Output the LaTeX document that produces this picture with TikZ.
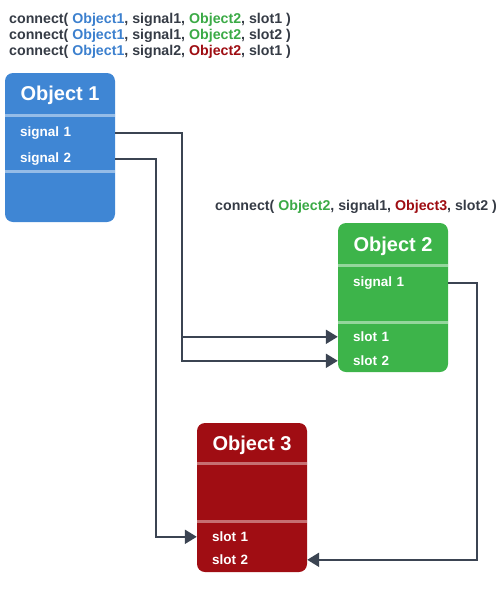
\documentclass[tikz,border=0pt]{standalone}
\usepackage{fontspec}
\setmainfont{Liberation Sans}
\usetikzlibrary{arrows.meta,positioning}
\definecolor{boxblue}{HTML}{3F86D4}
\definecolor{boxgreen}{HTML}{3DB44A}
\definecolor{boxred}{HTML}{A00D13}
\definecolor{txtblue}{HTML}{3C80CE}
\definecolor{txtgreen}{HTML}{3BAA46}
\definecolor{txtred}{HTML}{9E0D12}
\definecolor{txtgray}{HTML}{353B45}
\definecolor{wirecol}{HTML}{3B4452}
\tikzset{
  % object box, the rows are drawn on top of it
  obj/.style={rectangle, rounded corners=8pt, minimum width=110pt, minimum height=149pt, inner sep=0pt},
  title/.style={text=white, font=\fontsize{20}{24}\selectfont\bfseries},
  row/.style={rectangle, minimum width=110pt, minimum height=24pt, text width=80pt,
    inner xsep=15pt, inner ysep=0pt, align=left, text=white, font=\fontsize{13.5}{16}\selectfont\bfseries},
  sep/.style={line width=3pt},
  wire/.style={draw=wirecol, line width=2.2pt, -{Triangle[length=12pt,width=14pt]}},
  call/.style={anchor=west, inner sep=0pt, text=txtgray, font=\fontsize{14.2}{16}\selectfont\bfseries}}

\begin{document}
\begin{tikzpicture}[x=1pt,y=-1pt]
\useasboundingbox (0,0) rectangle (500,600);

\draw (9,20) node (c1) [call] {connect( \textcolor{txtblue}{Object1}, signal1, \textcolor{txtgreen}{Object2}, slot1 )};
\draw (9,36) node (c2) [call] {connect( \textcolor{txtblue}{Object1}, signal1, \textcolor{txtgreen}{Object2}, slot2 )};
\draw (9,52) node (c3) [call] {connect( \textcolor{txtblue}{Object1}, signal2, \textcolor{txtred}{Object2}, slot1 )};
\draw (215,207) node (c4) [call] {connect( \textcolor{txtgreen}{Object2}, signal1, \textcolor{txtred}{Object3}, slot2 )};

% Object 1
\draw (60,147.5) node (obj1) [obj, fill=boxblue] {};
\draw (obj1.north) ++(0,23) node (t1) [title] {Object 1};
\draw [sep, boxblue!55!white] ([yshift=-43pt]obj1.north west) -- ([yshift=-43pt]obj1.north east);
\draw [sep, boxblue!55!white] ([yshift=-99pt]obj1.north west) -- ([yshift=-99pt]obj1.north east);
\draw (obj1.north) ++(0,60) node (o1s1) [row] {signal 1};
\draw (obj1.north) ++(0,86) node (o1s2) [row] {signal 2};

% Object 2
\draw (393,297.5) node (obj2) [obj, fill=boxgreen] {};
\draw (obj2.north) ++(0,24) node (t2) [title] {Object 2};
\draw [sep, boxgreen!55!white] ([yshift=-43pt]obj2.north west) -- ([yshift=-43pt]obj2.north east);
\draw [sep, boxgreen!55!white] ([yshift=-100pt]obj2.north west) -- ([yshift=-100pt]obj2.north east);
\draw (obj2.north) ++(0,60) node (o2s1) [row] {signal 1};
\draw (obj2.north) ++(0,114) node (o2t1) [row] {slot 1};
\draw (obj2.north) ++(0,138) node (o2t2) [row] {slot 2};

% Object 3
\draw (252,497.5) node (obj3) [obj, fill=boxred] {};
\draw (obj3.north) ++(0,23) node (t3) [title] {Object 3};
\draw [sep, boxred!60!white] ([yshift=-41pt]obj3.north west) -- ([yshift=-41pt]obj3.north east);
\draw [sep, boxred!60!white] ([yshift=-99pt]obj3.north west) -- ([yshift=-99pt]obj3.north east);
\draw (obj3.north) ++(0,114) node (o3t1) [row] {slot 1};
\draw (obj3.north) ++(0,137) node (o3t2) [row] {slot 2};

% connections
\draw [wire] (o1s1.east) -- ++(67,0) |- (o2t1.west);
\draw [wire] (o1s1.east) -- ++(67,0) |- (o2t2.west);
\draw [wire] (o1s2.east) -- ++(41,0) |- (o3t1.west);
\draw [wire] (o2s1.east) -- ++(29,0) |- (o3t2.east);

\end{tikzpicture}
\end{document}
